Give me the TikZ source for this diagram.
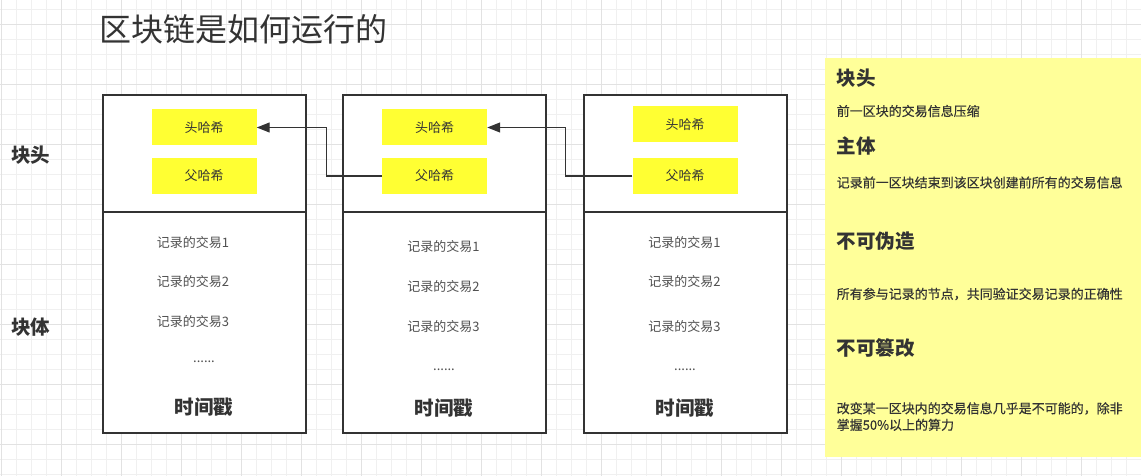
\documentclass[tikz,border=0pt]{standalone}
\usepackage{fontspec}
\setmainfont{Noto Sans CJK SC}
\newfontfamily\notefont[FakeBold=0.35]{Noto Sans CJK SC}
\usetikzlibrary{arrows.meta,positioning}
\definecolor{inkC}{RGB}{51,51,51}
\definecolor{bodyC}{RGB}{80,80,80}
\definecolor{hashY}{RGB}{255,255,51}
\definecolor{noteY}{RGB}{255,255,153}
\definecolor{gridA}{RGB}{240,240,240}
\definecolor{gridB}{RGB}{226,226,226}

\tikzset{
    blockbox/.style={draw=inkC, line width=1.6pt, fill=white, anchor=north west,
        minimum width=203pt, minimum height=338pt, inner sep=0pt},
    divline/.style={draw=inkC, line width=1.6pt},
    hashbox/.style={fill=hashY, minimum width=105pt, minimum height=36pt, inner sep=0pt,
        text=inkC, font=\fontsize{13}{15}\selectfont},
    txline/.style={inner sep=0pt, text=bodyC, font=\fontsize{13}{15}\selectfont},
    stamp/.style={inner sep=0pt, text=inkC, font=\fontsize{19.5}{22}\selectfont\bfseries},
    notehead/.style={anchor=west, inner sep=0pt, text=inkC, font=\fontsize{19.5}{22}\selectfont\bfseries},
    notebody/.style={anchor=west, inner sep=0pt, text=inkC, font=\notefont\fontsize{13}{16.5}\selectfont},
    link/.style={draw=inkC, line width=1.3pt, -{Triangle[length=13pt,width=10pt]}},
}

\begin{document}
\begin{tikzpicture}[x=1pt, y=-1pt]
    \useasboundingbox (0,0) rectangle (1141,476);

    % background grid
    \foreach \gx in {1,16,...,1141} \draw[gridA, line width=1pt] (\gx,0) -- (\gx,476);
    \foreach \gy in {9.3,24.3,...,476} \draw[gridA, line width=1pt] (0,\gy) -- (1141,\gy);
    \foreach \gx in {1,61,...,1141} \draw[gridB, line width=1pt] (\gx,0) -- (\gx,476);
    \foreach \gy in {24.3,84.3,...,476} \draw[gridB, line width=1pt] (0,\gy) -- (1141,\gy);

    \node[anchor=west, inner sep=0pt, text=inkC, font=\fontsize{32}{36}\selectfont] (title) at (99, 29) {区块链是如何运行的};

    \node[anchor=center, inner sep=0pt, text=inkC, font=\fontsize{19.5}{22}\selectfont\bfseries] (lblhead) at (31, 155) {块头};
    \node[anchor=center, inner sep=0pt, text=inkC, font=\fontsize{19.5}{22}\selectfont\bfseries] (lblbody) at (31, 327) {块体};

    \node[blockbox] (blk1) at (102, 94) {};
    \node[blockbox] (blk2) at (342, 94) {};
    \node[blockbox] (blk3) at (583, 94) {};
    \draw[divline] ([yshift=-118pt]blk1.north west) -- ([yshift=-118pt]blk1.north east);
    \draw[divline] ([yshift=-118pt]blk2.north west) -- ([yshift=-118pt]blk2.north east);
    \draw[divline] ([yshift=-118pt]blk3.north west) -- ([yshift=-118pt]blk3.north east);

    \node[hashbox] (hh1) at (204, 127.5) {头哈希};
    \node[hashbox] (ph1) at (204, 176) {父哈希};
    \node[hashbox] (hh2) at (434.5, 127.5) {头哈希};
    \node[hashbox] (ph2) at (434.5, 176) {父哈希};
    \node[hashbox] (hh3) at (685, 124.5) {头哈希};
    \node[hashbox] (ph3) at (685, 176) {父哈希};

    \draw[link] (ph2.west) -- ++(-55,0) |- (hh1.east);
    \draw[link] (ph3.west) -- ++(-67,0) |- (hh2.east);

    \node[txline] (tx11) at (193, 243) {记录的交易1};
    \node[txline] (tx12) at (193, 282) {记录的交易2};
    \node[txline] (tx13) at (193, 322) {记录的交易3};
    \node[txline, anchor=base] (more1) at (204, 362.5) {......};
    \node[stamp] (ts1) at (204, 407) {时间戳};

    \node[txline] (tx21) at (443.5, 246.5) {记录的交易1};
    \node[txline] (tx22) at (443.5, 286.5) {记录的交易2};
    \node[txline] (tx23) at (443.5, 326.5) {记录的交易3};
    \node[txline, anchor=base] (more2) at (444, 370.5) {......};
    \node[stamp] (ts2) at (444, 408) {时间戳};

    \node[txline] (tx31) at (684.5, 242.5) {记录的交易1};
    \node[txline] (tx32) at (684.5, 282) {记录的交易2};
    \node[txline] (tx33) at (684.5, 326.5) {记录的交易3};
    \node[txline, anchor=base] (more3) at (685, 370.5) {......};
    \node[stamp] (ts3) at (685, 408) {时间戳};

    \node[fill=noteY, anchor=north west, minimum width=316pt, minimum height=399pt, inner sep=0pt] (notes) at (825, 58) {};
    \node[notehead] (nh1) at (836.5, 78) {块头};
    \node[notebody] (nb1) at (836.5, 111) {前一区块的交易信息压缩};
    \node[notehead] (nh2) at (836.5, 146) {主体};
    \node[notebody] (nb2) at (836.5, 182.5) {记录前一区块结束到该区块创建前所有的交易信息};
    \node[notehead] (nh3) at (836.5, 241) {不可伪造};
    \node[notebody] (nb3) at (836.5, 294) {所有参与记录的节点，共同验证交易记录的正确性};
    \node[notehead] (nh4) at (836.5, 348) {不可篡改};
    \node[notebody, anchor=north west, align=left] (nb4) at (836.5, 402) {改变某一区块内的交易信息几乎是不可能的，除非\\掌握50\%以上的算力};
\end{tikzpicture}
\end{document}
